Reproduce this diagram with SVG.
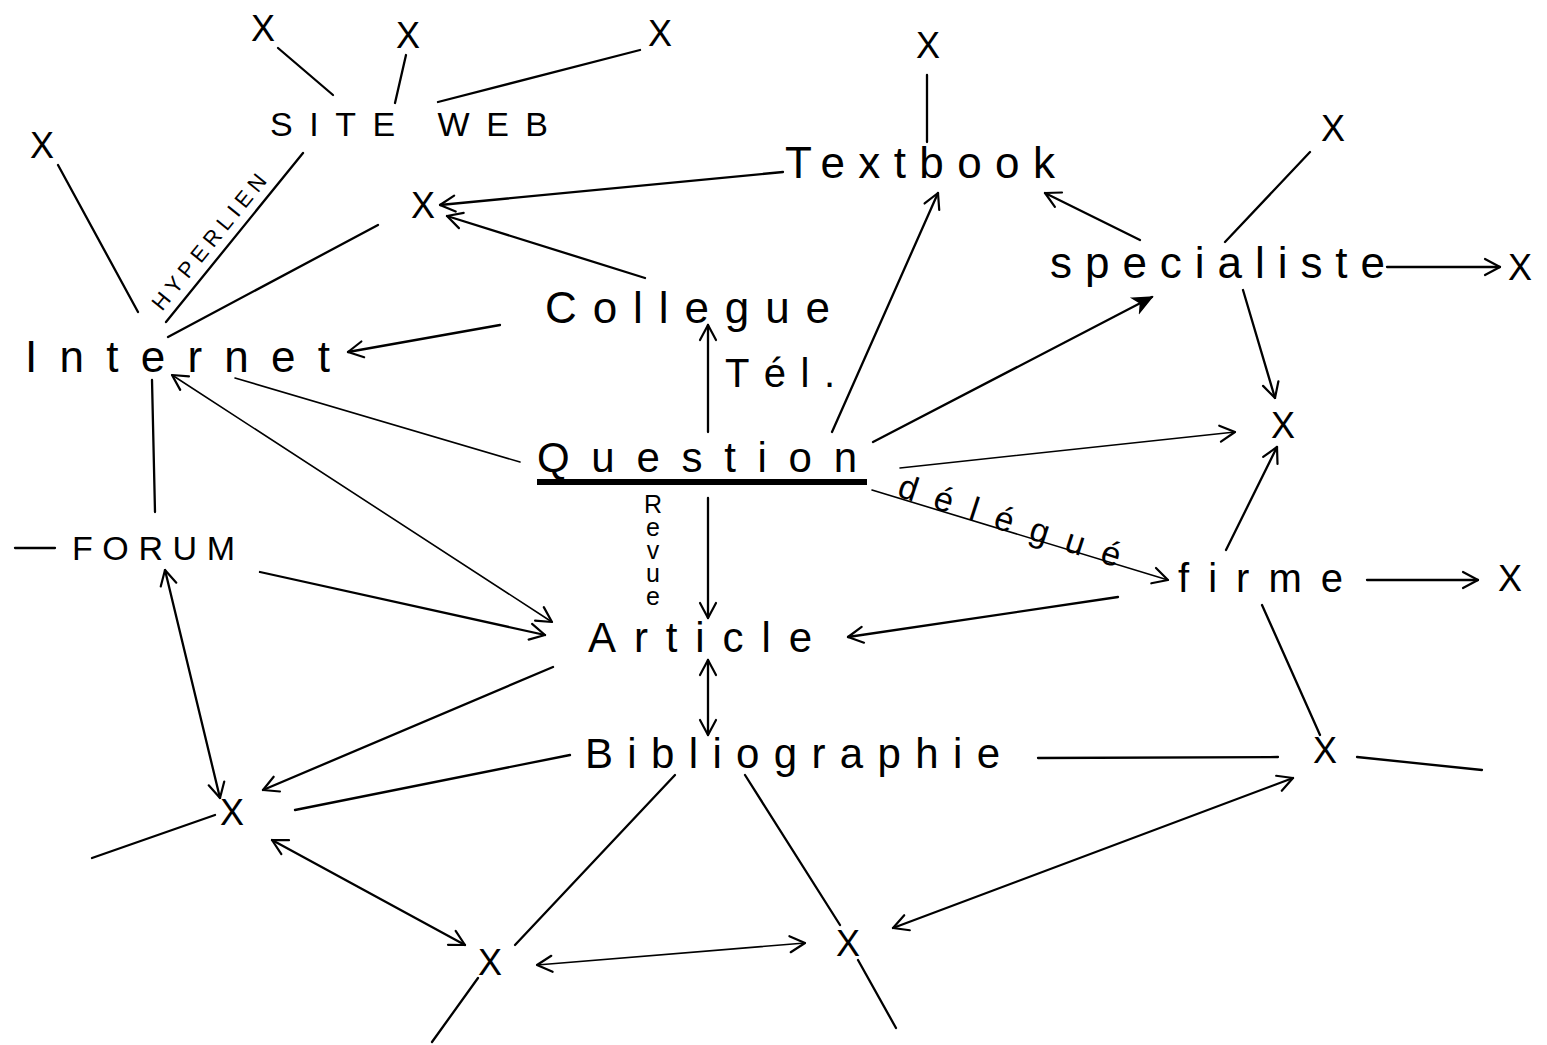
<svg xmlns="http://www.w3.org/2000/svg" width="1547" height="1045" viewBox="0 0 1547 1045">
<style>
.lbl{font-family:"Liberation Sans","DejaVu Sans",sans-serif;fill:#000;}
.x{font-family:"Liberation Sans","DejaVu Sans",sans-serif;font-size:36px;fill:#000;text-anchor:middle;dominant-baseline:central;}
.c line{stroke:#000;stroke-width:2.3;fill:none;stroke-linecap:round;}
.c .thin{stroke-width:1.6;}
.c .arr{marker-end:url(#ah);}
.c .dbl{marker-end:url(#ah);marker-start:url(#ah);}
.c .fill{marker-end:url(#ahf);}
</style>
<defs>
<marker id="ah" markerUnits="userSpaceOnUse" markerWidth="22" markerHeight="22" refX="17" refY="11" orient="auto-start-reverse">
<path d="M2,3 L17,11 L2,19" fill="none" stroke="#000" stroke-width="2.2" stroke-linecap="round" stroke-linejoin="round"/>
</marker>
<marker id="ahf" markerUnits="userSpaceOnUse" markerWidth="24" markerHeight="22" refX="20" refY="11" orient="auto">
<path d="M2,3 L20,11 L2,19 L7,11 Z" fill="#000" stroke="#000" stroke-width="1.5"/>
</marker>
</defs>
<rect width="1547" height="1045" fill="#fff"/>
<g class="c" id="connectors">
<line x1="278" y1="48" x2="333" y2="95"/>
<line x1="406" y1="55" x2="395" y2="103"/>
<line x1="640" y1="50" x2="438" y2="102"/>
<line x1="58" y1="165" x2="138" y2="312"/>
<line x1="303" y1="153" x2="166" y2="322"/>
<line x1="168" y1="337" x2="378" y2="225"/>
<line class="arr" x1="783" y1="172" x2="440" y2="205"/>
<line class="arr" x1="645" y1="278" x2="447" y2="216"/>
<line x1="927" y1="75" x2="927" y2="142"/>
<line class="arr" x1="500" y1="325" x2="348" y2="352"/>
<line class="arr" x1="708" y1="432" x2="708" y2="325"/>
<line class="arr" x1="832" y1="432" x2="938" y2="193"/>
<line class="arr" x1="1140" y1="240" x2="1045" y2="193"/>
<line x1="1310" y1="152" x2="1225" y2="242"/>
<line class="arr" x1="1387" y1="267" x2="1500" y2="267"/>
<line class="fill" x1="873" y1="442" x2="1152" y2="297"/>
<line class="arr" x1="1243" y1="290" x2="1275" y2="398"/>
<line class="arr thin" x1="900" y1="468" x2="1235" y2="432"/>
<line class="arr" x1="1226" y1="550" x2="1277" y2="447"/>
<line class="thin" x1="520" y1="462" x2="235" y2="378"/>
<line class="dbl thin" x1="172" y1="375" x2="552" y2="622"/>
<line x1="152" y1="380" x2="155" y2="512"/>
<line class="arr" x1="260" y1="572" x2="545" y2="635"/>
<line class="arr" x1="708" y1="498" x2="708" y2="618"/>
<line class="arr thin" x1="872" y1="490" x2="1168" y2="580"/>
<line class="arr" x1="1367" y1="580" x2="1478" y2="580"/>
<line class="arr" x1="1118" y1="597" x2="848" y2="637"/>
<line x1="1262" y1="605" x2="1320" y2="735"/>
<line class="dbl" x1="708" y1="660" x2="708" y2="735"/>
<line class="arr" x1="553" y1="667" x2="263" y2="790"/>
<line class="dbl" x1="165" y1="570" x2="220" y2="798"/>
<line x1="570" y1="755" x2="295" y2="810"/>
<line x1="92" y1="858" x2="215" y2="815"/>
<line class="dbl" x1="272" y1="840" x2="465" y2="945"/>
<line x1="675" y1="775" x2="515" y2="945"/>
<line x1="478" y1="978" x2="432" y2="1042"/>
<line class="dbl thin" x1="537" y1="965" x2="805" y2="943"/>
<line x1="745" y1="775" x2="840" y2="925"/>
<line x1="858" y1="960" x2="896" y2="1028"/>
<line class="dbl" x1="893" y1="928" x2="1293" y2="778"/>
<line x1="1038" y1="758" x2="1278" y2="757"/>
<line x1="1357" y1="757" x2="1482" y2="770"/>
<line x1="15" y1="548" x2="55" y2="548"/>
</g>
<g id="site-web"><text class="lbl" x="270" y="136" font-size="34" textLength="278" lengthAdjust="spacing">SITE WEB</text></g>
<g id="hyperlien-label"><text class="lbl" transform="translate(162,312) rotate(-51)" font-size="22" textLength="168" lengthAdjust="spacing">HYPERLIEN</text></g>
<g id="textbook"><text class="lbl" x="785" y="178" font-size="44" textLength="270" lengthAdjust="spacing">Textbook</text></g>
<g id="collegue"><text class="lbl" x="545" y="323" font-size="44" textLength="285" lengthAdjust="spacing">Collegue</text></g>
<g id="internet"><text class="lbl" x="25" y="372" font-size="44" textLength="305" lengthAdjust="spacing">Internet</text></g>
<g id="tel-label"><text class="lbl" x="725" y="387" font-size="40" textLength="110" lengthAdjust="spacing">Tél.</text></g>
<g id="question"><text class="lbl" x="537" y="472" font-size="42" textLength="320" lengthAdjust="spacing">Question</text>
<rect x="537" y="479" width="330" height="6" fill="#000"/></g>
<g id="revue-label"><text class="lbl" x="653" y="490" font-size="25" letter-spacing="-5" style="writing-mode:vertical-rl;text-orientation:upright">Revue</text></g>
<g id="delegue-label"><text class="lbl" transform="translate(896,496) rotate(18)" font-size="34" textLength="232" lengthAdjust="spacing">délégué</text></g>
<g id="specialiste"><text class="lbl" x="1050" y="278" font-size="44" textLength="335" lengthAdjust="spacing">specialiste</text></g>
<g id="forum"><text class="lbl" x="72" y="560" font-size="34" textLength="163" lengthAdjust="spacing">FORUM</text></g>
<g id="article"><text class="lbl" x="588" y="652" font-size="42" textLength="224" lengthAdjust="spacing">Article</text></g>
<g id="firme"><text class="lbl" x="1178" y="592" font-size="40" textLength="165" lengthAdjust="spacing">firme</text></g>
<g id="bibliographie"><text class="lbl" x="585" y="768" font-size="42" textLength="415" lengthAdjust="spacing">Bibliographie</text></g>
<g id="x1"><text class="x" x="263" y="28">X</text></g>
<g id="x2"><text class="x" x="408" y="35">X</text></g>
<g id="x3"><text class="x" x="660" y="33">X</text></g>
<g id="x4"><text class="x" x="42" y="145">X</text></g>
<g id="x5"><text class="x" x="423" y="205">X</text></g>
<g id="x6"><text class="x" x="928" y="45">X</text></g>
<g id="x7"><text class="x" x="1333" y="128">X</text></g>
<g id="x8"><text class="x" x="1520" y="267">X</text></g>
<g id="x9"><text class="x" x="1283" y="425">X</text></g>
<g id="x10"><text class="x" x="1510" y="578">X</text></g>
<g id="x11"><text class="x" x="1325" y="750">X</text></g>
<g id="x12"><text class="x" x="232" y="812">X</text></g>
<g id="x13"><text class="x" x="490" y="962">X</text></g>
<g id="x14"><text class="x" x="848" y="943">X</text></g>
</svg>
